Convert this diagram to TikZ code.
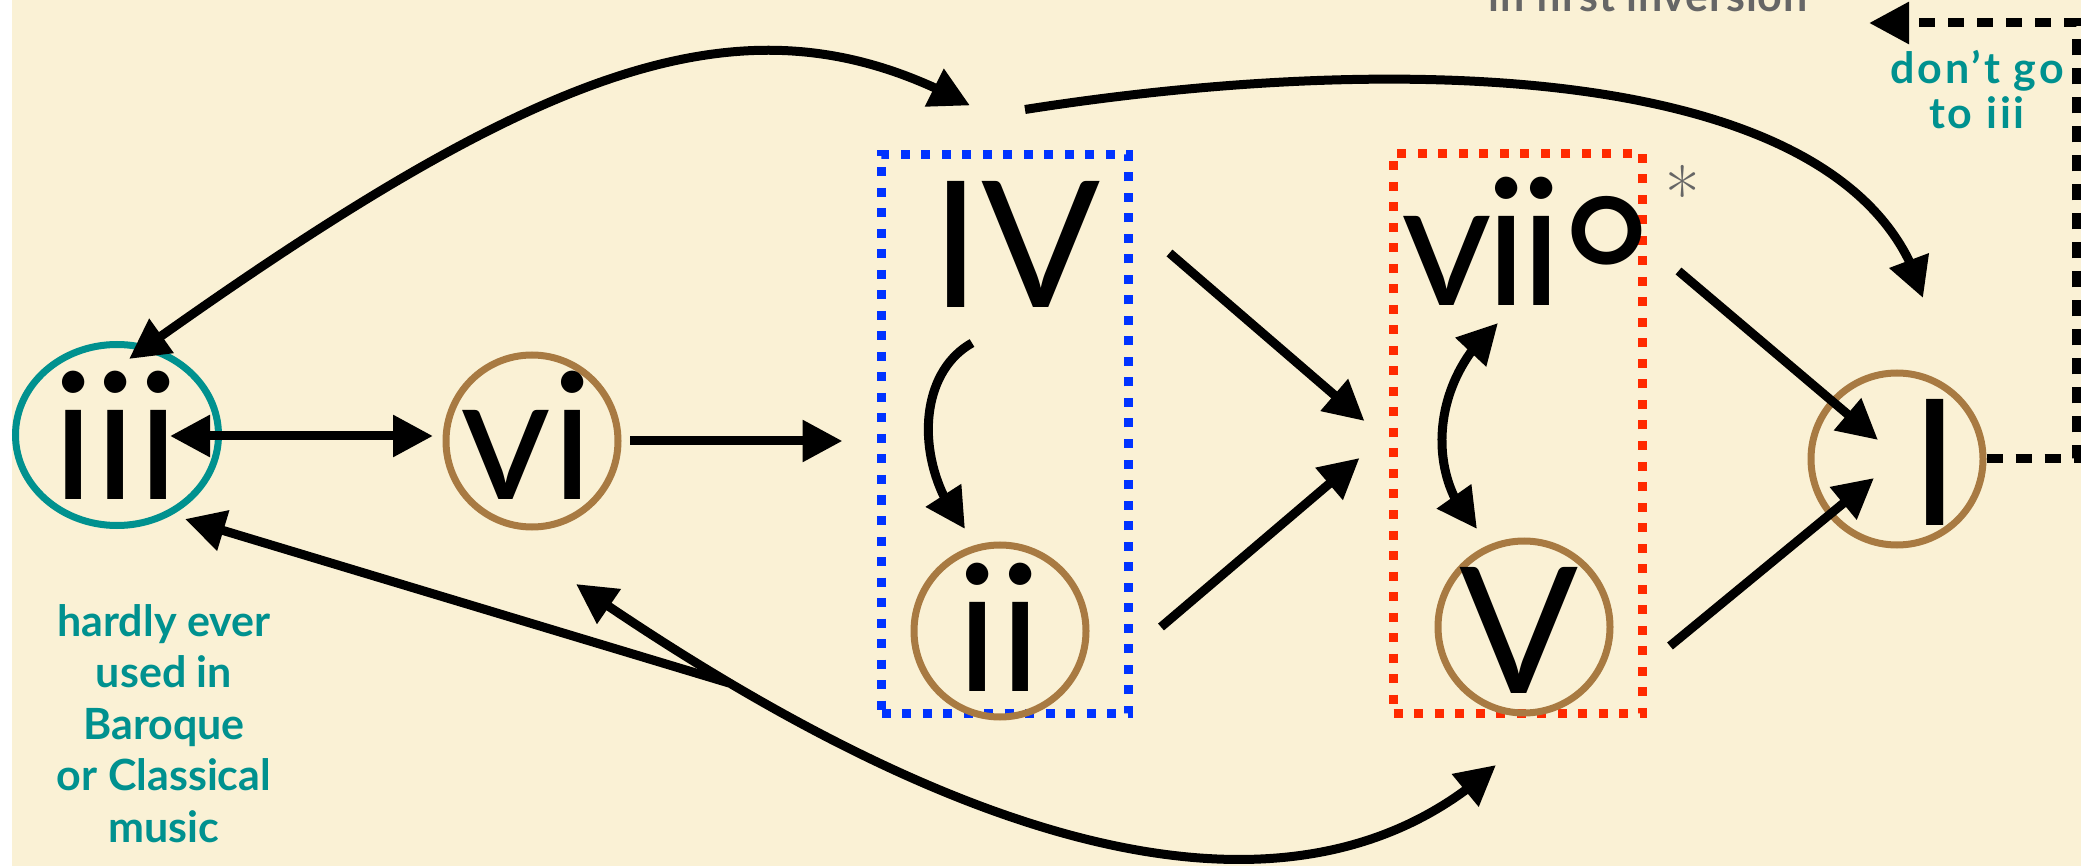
\documentclass[tikz,border=0pt]{standalone}
\usepackage{fontspec}
\newfontfamily\lato{Lato}
\usetikzlibrary{arrows.meta,bending,calc,shapes.geometric}
\definecolor{cream}{HTML}{FAF1D5}
\definecolor{tealc}{HTML}{00918F}
\definecolor{brownc}{HTML}{A87A42}
\definecolor{blued}{HTML}{0033FF}
\definecolor{redd}{HTML}{FF2A00}
\definecolor{grayt}{HTML}{666666}
\begin{document}
\begin{tikzpicture}[x=1pt,y=-1pt,
  chord/.style={draw=brownc,line width=7pt,circle,minimum size=172pt,inner sep=0pt},
  numeral/.style={font=\lato\fontsize{176}{176}\selectfont,inner sep=0pt,anchor=base},
  conn/.style={line width=9pt,-{Triangle[length=40pt,width=40pt]}},
  conntwo/.style={line width=9pt,{Triangle[length=40pt,width=40pt]}-{Triangle[length=40pt,width=40pt]}},
  dotbox/.style={rectangle,line width=9pt,dash pattern=on 9pt off 11.5pt,inner sep=0pt},
  caption/.style={font=\lato\bfseries\fontsize{43}{51.5}\selectfont,align=center,text=tealc,inner sep=0pt},
]
\useasboundingbox (0,0) rectangle (2081,866);
\clip (0,0) rectangle (2081,866);
\fill[white] (0,0) rectangle (2081,866);
\fill[cream] (12,0) rectangle (2081,866);

% chords
\node[ellipse,draw=tealc,line width=7pt,minimum width=203pt,minimum height=181pt,inner sep=0pt] (iii) at (117,435) {};
\node[numeral] (iiit) at (116,500) {iii};
\node[chord] (vi) at (532,441) {};
\node[numeral] (vit) at (527,500) {vi};
\node[dotbox,draw=blued,minimum width=247pt,minimum height=559pt] (bIV) at (1005,434) {};
\node[numeral] (IVt) at (1016,308) {IV};
\node[chord] (ii) at (1000,631) {};
\node[numeral] (iit) at (999,691) {ii};
\node[dotbox,draw=redd,minimum width=249pt,minimum height=560pt] (bV) at (1518,433.5) {};
\node[numeral,anchor=base west,font=\lato\fontsize{176}{176}\selectfont\addfontfeatures{LetterSpace=-4}] (viit) at (1401,306) {vii\raisebox{-46pt}{\fontsize{214}{214}\selectfont °}};
\node[chord] (V) at (1524,627) {};
\node[numeral] (Vt) at (1519.5,693) {V};
\node[chord] (I) at (1897,459) {};
\node[numeral] (It) at (1935.5,525) {I};

% labels
\node[caption,anchor=base] (hardly) at (164,842) {hardly ever\\used in\\Baroque\\or Classical\\music};
\node[caption,font=\lato\bfseries\fontsize{43}{45}\selectfont\addfontfeatures{LetterSpace=7},anchor=base] (dont) at (1977,129) {don’t go\\to iii};
\node[font=\lato\bfseries\fontsize{43}{45}\selectfont\addfontfeatures{LetterSpace=2},text=grayt,inner sep=0pt,anchor=base] (inv) at (1648,12) {in first inversion};
\node[text=grayt,font=\fontsize{75}{75}\selectfont,inner sep=0pt,anchor=base] (ast) at (1683,222) {*};

% connectors
\draw[conntwo] ($(iii)+(53,1)$) -- ($(vi)+(-99,-5)$);
\draw[conn] ($(vi)+(98,0)$) -- ($(bIV.west)+(-34.5,7)$);
\draw[conn] ($(bIV.east)+(36.5,-181)$) -- ($(bV.west)+(-24.5,-12.5)$);
\draw[conn] ($(ii)+(161,-4)$) -- ($(bV.west)+(-29.5,24.5)$);
\draw[conn] ($(IVt.base)+(-44,35)$) .. controls +(-57,32) and +(-50,-59) .. ($(ii)+(-35,-102)$);
\draw[conntwo] ($(viit.base west)+(97,17)$) .. controls +(-68,57) and +(-52,-51) .. ($(V)+(-47,-98)$);
\draw[conn] ($(bV.east)+(31.5,-162.5)$) -- ($(I)+(-19,-19)$);
\draw[conn] ($(V)+(146,19)$) -- ($(I)+(-23,19)$);
\draw[conn] ($(bIV.north)+(20,-40.5)$) .. controls +(375,-59) and +(-63,-238) .. ($(I)+(26,-161)$);
\draw[conntwo] ($(iii)+(12,-76)$) .. controls +(421,-302) and +(-220,-120) .. ($(bIV.north)+(-35,-44.5)$);
\draw[conntwo] ($(vi)+(44,143)$) .. controls +(369,256) and +(-207,190) .. ($(V)+(-28,138)$);
\coordinate (junc) at (729,683);
\draw[conn] (junc) -- ($(iii)+(68,84)$);
\coordinate (dc1) at (2076,459);
\coordinate (dc2) at (2076,23);
\coordinate (dtip) at (1869,23);
\draw[line width=9pt,dash pattern=on 16pt off 13pt,-{Triangle[length=40pt,width=40pt]}] (I.east) -- (dc1) -- (dc2) -- (dtip);
\end{tikzpicture}
\end{document}
